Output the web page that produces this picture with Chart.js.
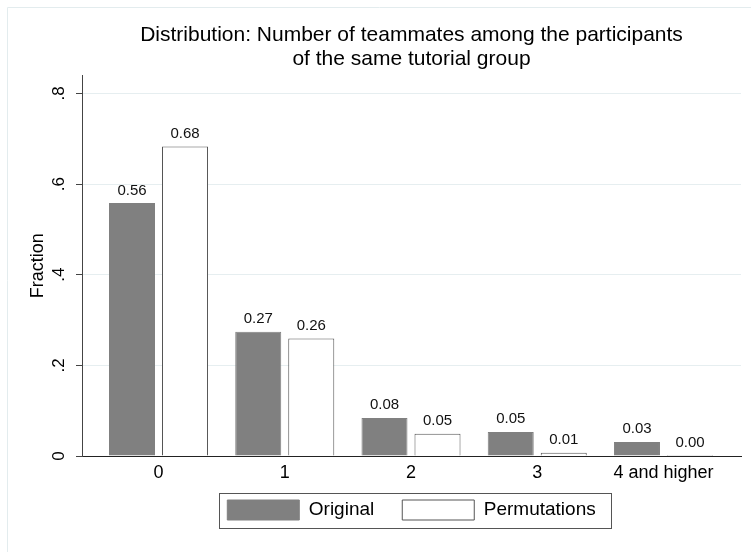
<!DOCTYPE html>
<html>
<head>
<meta charset="utf-8">
<script src="https://cdn.jsdelivr.net/npm/chart.js@4.4.0/dist/chart.umd.min.js"></script>
<style>
  html, body { margin: 0; padding: 0; background: #fff; }
</style>
</head>
<body>
<canvas id="chart" width="751" height="552"></canvas>
<script>
// data
const categories = ["0", "1", "2", "3", "4 and higher"];
const original = [0.558, 0.274, 0.084, 0.053, 0.031];
const permutations = [0.683, 0.259, 0.049, 0.007, 0.002];
const yTickValues = [0, 0.2, 0.4, 0.6, 0.8];
const yTickLabels = ["0", ".2", ".4", ".6", ".8"];

const FONT = "'Liberation Sans', Arial, Helvetica, sans-serif";
const X_AXIS_HEIGHT = 28;
const LEGEND_LIFT = 12;

// light outer frame of the graph region (top and left edges are visible)
const regionFrame = {
    id: "regionFrame",
    beforeDraw(chart) {
        const ctx = chart.ctx;
        ctx.save();
        ctx.strokeStyle = "#e3ecee";
        ctx.lineWidth = 1;
        ctx.beginPath();
        ctx.moveTo(7.5, chart.height + 2);
        ctx.lineTo(7.5, 7.5);
        ctx.lineTo(chart.width + 2, 7.5);
        ctx.stroke();
        ctx.restore();
    }
};

// pull the legend up a bit, closer to the category labels
const legendShift = {
    id: "legendShift",
    afterLayout(chart) {
        const lg = chart.legend;
        if (!lg) return;
        lg.top -= LEGEND_LIFT;
        lg.bottom -= LEGEND_LIFT;
    }
};

// numbers on top of the bars
const barValues = {
    id: "barValues",
    afterDatasetsDraw(chart) {
        const ctx = chart.ctx;
        ctx.save();
        ctx.font = "15px " + FONT;
        ctx.fillStyle = "#111";
        ctx.textAlign = "center";
        ctx.textBaseline = "alphabetic";
        chart.data.datasets.forEach((ds, di) => {
            chart.getDatasetMeta(di).data.forEach((bar, i) => {
                ctx.fillText(ds.data[i].y.toFixed(2), bar.x, bar.y - 8.5);
            });
        });
        ctx.restore();
    }
};

// box round the legend
const legendFrame = {
    id: "legendFrame",
    afterDraw(chart) {
        const boxes = chart.legend.legendHitBoxes;
        if (!boxes || !boxes.length) return;
        const first = boxes[0];
        const last = boxes[boxes.length - 1];
        const left = Math.round(first.left - 8) + 0.5;
        const right = Math.round(last.left + last.width + 15) + 0.5;
        const top = Math.round(first.top - 7) + 0.5;
        const bottom = Math.round(first.top + first.height + 8) + 0.5;
        const ctx = chart.ctx;
        ctx.save();
        ctx.strokeStyle = "#555";
        ctx.lineWidth = 1;
        ctx.strokeRect(left, top, right - left, bottom - top);
        ctx.restore();
    }
};

new Chart(document.getElementById("chart"), {
    type: "bar",
    data: {
        datasets: [
            {
                label: "Original",
                data: original.map((v, i) => ({ x: i, y: v })),
                backgroundColor: "#808080",
                borderColor: "#808080",
                borderWidth: 1
            },
            {
                label: "Permutations",
                data: permutations.map((v, i) => ({ x: i, y: v })),
                backgroundColor: "#ffffff",
                borderColor: "#555555",
                borderWidth: 1
            }
        ]
    },
    options: {
        responsive: false,
        animation: false,
        devicePixelRatio: 1,
        categoryPercentage: 0.84,
        barPercentage: 0.868,
        layout: { padding: { left: 0, right: 10, top: 0, bottom: 10 } },
        scales: {
            x: {
                type: "linear",
                offset: false,
                min: -0.606,
                max: 4.614,
                grid: { display: false, drawTicks: false },
                border: { display: true, color: "#222", width: 1 },
                ticks: {
                    stepSize: 1,
                    includeBounds: false,
                    autoSkip: false,
                    maxRotation: 0,
                    padding: 6,
                    color: "#000",
                    font: { family: FONT, size: 18 },
                    callback: v => categories[v] ?? ""
                },
                afterFit: s => { s.height = X_AXIS_HEIGHT; }
            },
            y: {
                min: 0,
                max: 0.84,
                grid: { color: "#e6eef0", tickColor: "#444", tickLength: 6 },
                border: { display: true, color: "#444", width: 1 },
                afterBuildTicks: s => { s.ticks = yTickValues.map(v => ({ value: v })); },
                ticks: {
                    includeBounds: false,
                    minRotation: 90,
                    maxRotation: 90,
                    crossAlign: "center",
                    padding: 10,
                    color: "#000",
                    font: { family: FONT, size: 17 },
                    callback: v => yTickLabels[yTickValues.indexOf(Math.round(v * 10) / 10)]
                },
                title: {
                    display: true,
                    text: "Fraction",
                    color: "#000",
                    font: { family: FONT, size: 18 },
                    padding: { top: 27, bottom: 0 }
                },
                afterFit: s => { s.width = 82; }
            }
        },
        plugins: {
            title: {
                display: true,
                fullSize: false,
                text: ["Distribution: Number of teammates among the participants", "of the same tutorial group"],
                color: "#000",
                font: { family: FONT, size: 21, weight: "normal", lineHeight: 1.15 },
                padding: { top: 23, bottom: 4 }
            },
            legend: {
                position: "bottom",
                fullSize: false,
                labels: {
                    boxWidth: 72,
                    boxHeight: 20,
                    padding: 28,
                    color: "#000",
                    font: { family: FONT, size: 19 }
                }
            },
            tooltip: { enabled: false }
        }
    },
    plugins: [regionFrame, legendShift, barValues, legendFrame]
});
</script>
</body>
</html>
